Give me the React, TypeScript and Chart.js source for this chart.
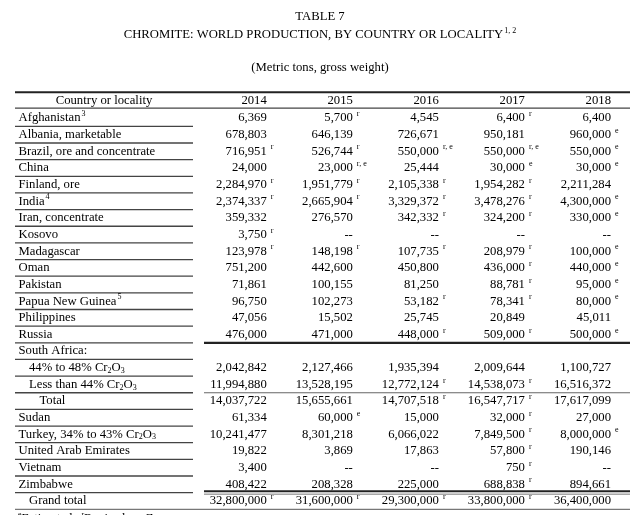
import React, { useEffect, useRef } from 'react';
import { Chart, registerables } from 'chart.js';

Chart.register(...registerables);

// ---- Text ----
const tableTitle = 'TABLE 7';
const tableHeading = 'CHROMITE: WORLD PRODUCTION, BY COUNTRY OR LOCALITY';
const headingNote = '1, 2';
const tableUnits = '(Metric tons, gross weight)';
const headerLabel = 'Country or locality';
const footnoteText = [['e', 'Estimated.'], ['r', 'Revised.'], ['', '-- Zero.']];

// ---- Categories ----
const years = ['2014', '2015', '2016', '2017', '2018'];
const rowNames = [
  'Afghanistan',
  'Albania, marketable',
  'Brazil, ore and concentrate',
  'China',
  'Finland, ore',
  'India',
  'Iran, concentrate',
  'Kosovo',
  'Madagascar',
  'Oman',
  'Pakistan',
  'Papua New Guinea',
  'Philippines',
  'Russia',
  'South Africa:',
  '44% to 48% Cr₂O₃',
  'Less than 44% Cr₂O₃',
  'Total',
  'Sudan',
  'Turkey, 34% to 43% Cr₂O₃',
  'United Arab Emirates',
  'Vietnam',
  'Zimbabwe',
  'Grand total',
];
const rowNotes = ['3', '', '', '', '', '4', '', '', '', '', '', '5', '', '', '', '', '', '', '', '', '', '', '', ''];
const rowLevels = [0, 0, 0, 0, 0, 0, 0, 0, 0, 0, 0, 0, 0, 0, 0, 1, 1, 2, 0, 0, 0, 0, 0, 1];

// ---- Values (null = no entry, '--' = zero) ----
const v2014 = [6369, 678803, 716951, 24000, 2284970, 2374337, 359332, 3750, 123978, 751200, 71861, 96750, 47056, 476000, null, 2042842, 11994880, 14037722, 61334, 10241477, 19822, 3400, 408422, 32800000];
const n2014 = ['', '', 'r', '', 'r', 'r', '', 'r', 'r', '', '', '', '', '', '', '', '', '', '', '', '', '', '', 'r'];
const v2015 = [5700, 646139, 526744, 23000, 1951779, 2665904, 276570, '--', 148198, 442600, 100155, 102273, 15502, 471000, null, 2127466, 13528195, 15655661, 60000, 8301218, 3869, '--', 208328, 31600000];
const n2015 = ['r', '', 'r', 'r, e', 'r', 'r', '', '', 'r', '', '', '', '', '', '', '', '', '', 'e', '', '', '', '', 'r'];
const v2016 = [4545, 726671, 550000, 25444, 2105338, 3329372, 342332, '--', 107735, 450800, 81250, 53182, 25745, 448000, null, 1935394, 12772124, 14707518, 15000, 6066022, 17863, '--', 225000, 29300000];
const n2016 = ['', '', 'r, e', '', 'r', 'r', 'r', '', 'r', '', '', 'r', '', 'r', '', '', 'r', 'r', '', '', '', '', '', 'r'];
const v2017 = [6400, 950181, 550000, 30000, 1954282, 3478276, 324200, '--', 208979, 436000, 88781, 78341, 20849, 509000, null, 2009644, 14538073, 16547717, 32000, 7849500, 57800, 750, 688838, 33800000];
const n2017 = ['r', '', 'r, e', 'e', 'r', 'r', 'r', '', 'r', 'r', 'r', 'r', '', 'r', '', '', 'r', 'r', 'r', 'r', 'r', 'r', 'r', 'r'];
const v2018 = [6400, 960000, 550000, 30000, 2211284, 4300000, 330000, '--', 100000, 440000, 95000, 80000, 45011, 500000, null, 1100727, 16516372, 17617099, 27000, 8000000, 190146, '--', 894661, 36400000];
const n2018 = ['', 'e', 'e', 'e', '', 'e', 'e', '', 'e', 'e', 'e', 'e', '', 'e', '', '', '', '', '', 'e', '', '', '', ''];

const seriesValues = [v2014, v2015, v2016, v2017, v2018];
const seriesNotes = [n2014, n2015, n2016, n2017, n2018];

const FONT = "'Liberation Serif', 'Times New Roman', serif";
const SIZE = 12.7;
const SMALL = 8;

function drawRich(ctx: CanvasRenderingContext2D, text: string, x: number, y: number) {
  // draws left-aligned text, turning ₂ ₃ into subscripts
  let cx = x;
  let buf = '';
  const flush = () => {
    if (!buf) return;
    ctx.font = `${SIZE}px ${FONT}`;
    ctx.fillText(buf, cx, y);
    cx += ctx.measureText(buf).width;
    buf = '';
  };
  for (const ch of text) {
    if (ch === '₂' || ch === '₃') {
      flush();
      const d = ch === '₂' ? '2' : '3';
      ctx.font = `${SMALL}px ${FONT}`;
      ctx.fillText(d, cx, y + 3);
      cx += ctx.measureText(d).width;
    } else buf += ch;
  }
  flush();
  return cx;
}

const tablePlugin = {
  id: 'tableText',
  afterDraw(chart: any) {
    const { ctx, chartArea: a, scales } = chart;
    const xs = scales.x;
    const ys = scales.y;
    const band = ys.getPixelForValue(1) - ys.getPixelForValue(0);
    const bottomOf = (i: number) => ys.getPixelForValue(i) + band / 2;
    const leftEnd = a.left + 178;
    const dataStart = a.left + 189;

    ctx.save();
    ctx.fillStyle = '#000';
    ctx.textBaseline = 'middle';

    // titles
    ctx.textAlign = 'center';
    ctx.font = `${SIZE}px ${FONT}`;
    ctx.fillText(tableTitle, 320, 17);
    const hw = ctx.measureText(tableHeading).width;
    ctx.font = `${SMALL}px ${FONT}`;
    const nw = ctx.measureText(headingNote).width;
    const hx = 320 - (hw + nw + 1) / 2;
    ctx.textAlign = 'left';
    ctx.font = `${SIZE}px ${FONT}`;
    ctx.fillText(tableHeading, hx, 35);
    ctx.font = `${SMALL}px ${FONT}`;
    ctx.fillText(headingNote, hx + hw + 1, 31);
    ctx.textAlign = 'center';
    ctx.font = `${SIZE}px ${FONT}`;
    ctx.fillText(tableUnits, 320, 68);

    // rules
    const hline = (x1: number, x2: number, y: number, w: number, color: string) => {
      ctx.beginPath();
      ctx.strokeStyle = color;
      ctx.lineWidth = w;
      ctx.moveTo(x1, y);
      ctx.lineTo(x2, y);
      ctx.stroke();
    };
    hline(a.left, a.right, a.top - 17.5, 2, '#222');
    hline(a.left, a.right, a.top - 1.5, 1.2, '#444');
    for (let i = 0; i < rowNames.length - 1; i++) {
      hline(a.left, leftEnd, bottomOf(i), 1.3, '#444');
    }
    hline(dataStart, a.right, bottomOf(13), 2.2, '#222');
    hline(dataStart, a.right, bottomOf(16), 1.2, '#666');
    hline(dataStart, a.right, bottomOf(22) - 1.5, 2, '#222');
    hline(dataStart, a.right, bottomOf(22) + 1.5, 1, '#777');
    hline(a.left, a.right, a.bottom, 1.2, '#777');

    // header row
    ctx.font = `${SIZE}px ${FONT}`;
    ctx.textAlign = 'center';
    const hy = a.top - 9;
    ctx.fillText(headerLabel, (a.left + leftEnd) / 2, hy);
    ctx.textAlign = 'right';
    years.forEach((yr, c) => {
      ctx.fillText(yr, xs.getPixelForValue(c + 1), hy);
    });

    // row labels
    ctx.textAlign = 'left';
    rowNames.forEach((name, i) => {
      const y = ys.getPixelForValue(i);
      const end = drawRich(ctx, name, a.left + 3.5 + rowLevels[i] * 10.5, y);
      if (rowNotes[i]) {
        ctx.font = `${SMALL}px ${FONT}`;
        ctx.fillText(rowNotes[i], end + 1, y - 4);
      }
    });

    // cells, placed at each point's position
    chart.data.datasets.forEach((ds: any, d: number) => {
      const meta = chart.getDatasetMeta(d);
      meta.data.forEach((el: any, j: number) => {
        const raw = ds.data[j];
        const txt = raw.v === '--' ? '--' : Number(raw.v).toLocaleString('en-US');
        ctx.textAlign = 'right';
        ctx.font = `${SIZE}px ${FONT}`;
        ctx.fillText(txt, el.x, el.y);
        if (raw.note) {
          ctx.textAlign = 'left';
          ctx.font = `${SMALL}px ${FONT}`;
          ctx.fillText(raw.note, el.x + 4, el.y - 4);
        }
      });
    });

    // footnote (cut off at page edge)
    ctx.textAlign = 'left';
    let fx = a.left + 3;
    const fy = 519;
    footnoteText.forEach(([mark, t]) => {
      if (mark) {
        ctx.font = `${SMALL}px ${FONT}`;
        ctx.fillText(mark, fx, fy - 4);
        fx += ctx.measureText(mark).width;
      }
      ctx.font = `${SIZE}px ${FONT}`;
      ctx.fillText(t, fx, fy);
      fx += ctx.measureText(t).width + 6;
    });

    ctx.restore();
  },
};

export default function App() {
  const ref = useRef<HTMLCanvasElement>(null);
  useEffect(() => {
    if (!ref.current) return;
    const datasets = years.map((yr, c) => ({
      label: yr,
      data: seriesValues[c]
        .map((v, i) => (v === null ? null : { x: c + 1, y: rowNames[i], v, note: seriesNotes[c][i] }))
        .filter((p) => p !== null),
      pointRadius: 0,
      showLine: false,
    }));
    const chart = new Chart(ref.current, {
      type: 'scatter',
      data: { datasets: datasets as any },
      options: {
        responsive: true,
        maintainAspectRatio: false,
        animation: false,
        events: [],
        layout: { padding: { left: 15, right: 10, top: 109.7, bottom: 5.7 } },
        plugins: { legend: { display: false }, tooltip: { enabled: false }, title: { display: false } },
        scales: {
          x: { type: 'linear', min: -1.926, max: 5.221, display: false },
          y: { type: 'category', labels: rowNames, offset: true, display: false },
        },
      },
      plugins: [tablePlugin],
    });
    return () => chart.destroy();
  }, []);
  return (
    <div style={{ position: 'fixed', left: 0, top: 0, width: 640, height: 515, background: '#fff' }}>
      <canvas ref={ref} />
    </div>
  );
}
